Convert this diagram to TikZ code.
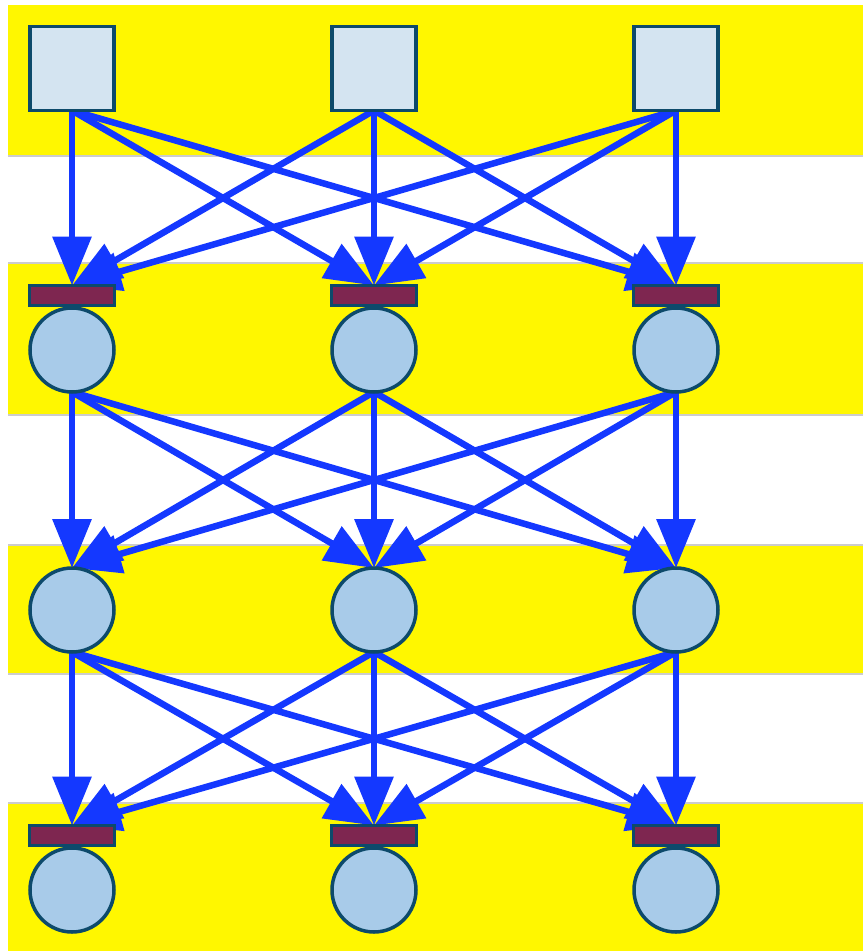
\documentclass[tikz,border=0pt]{standalone}
\usetikzlibrary{arrows.meta}
\pgfdeclarelayer{bands}
\pgfdeclarelayer{links}
\pgfsetlayers{bands,links,main}
\definecolor{bandyellow}{RGB}{255,247,0}
\definecolor{linkblue}{RGB}{20,56,255}
\definecolor{edgeteal}{RGB}{13,74,107}
\definecolor{sqfill}{RGB}{212,228,241}
\definecolor{cifill}{RGB}{168,203,233}
\definecolor{barfill}{RGB}{126,38,80}
\tikzset{
  sq/.style={draw=edgeteal, line width=3.5pt, fill=sqfill, rectangle, minimum size=84pt, inner sep=0pt, outer sep=0pt},
  ci/.style={draw=edgeteal, line width=3.5pt, fill=cifill, circle, minimum size=84pt, inner sep=0pt, outer sep=0pt},
  barnode/.style={draw=edgeteal, line width=3.5pt, fill=barfill, rectangle, minimum width=85pt, minimum height=20pt, inner sep=0pt, outer sep=0pt},
  link/.style={draw=linkblue, line width=6.5pt, -{Triangle[length=49pt,width=38pt]}},
  bandline/.style={draw=black!20, line width=1.2pt}
}
\begin{document}
\begin{tikzpicture}[x=1pt,y=-1pt]
\useasboundingbox (0,0) rectangle (863,951);
\begin{pgfonlayer}{bands}
\fill[white] (0,0) rectangle (863,951);
\fill[bandyellow] (8,5) rectangle (863,156);
\fill[bandyellow] (8,263) rectangle (863,415);
\fill[bandyellow] (8,545) rectangle (863,674);
\fill[bandyellow] (8,803) rectangle (863,951);
\foreach \yy in {156,263,415,545,674,803}
  \draw[bandline] (8,\yy) -- (863,\yy);
\end{pgfonlayer}
\foreach \xx/\i in {72/1,374/2,676/3}{
  \node[sq] (s\i) at (\xx,68.5) {};
  \node[barnode] (b\i) at (\xx,295.5) {};
  \node[ci] (c\i) at (\xx,350) {};
  \node[ci] (d\i) at (\xx,610) {};
  \node[barnode] (e\i) at (\xx,835.5) {};
  \node[ci] (f\i) at (\xx,890) {};
}
\begin{pgfonlayer}{links}
\foreach \i in {1,2,3}{
  \foreach \j in {1,2,3}{
    \draw[link] (s\i.south) -- (b\j.north);
    \draw[link] (c\i.south) -- (d\j.north);
    \draw[link] (d\i.south) -- (e\j.north);
  }
}
\end{pgfonlayer}
\end{tikzpicture}
\end{document}
